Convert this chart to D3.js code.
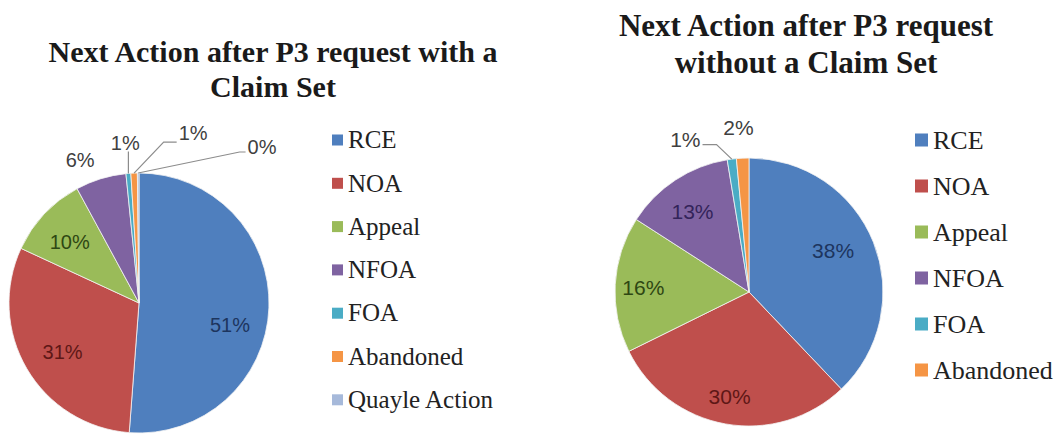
<!DOCTYPE html>
<html>
<head>
<meta charset="utf-8">
<script src="https://cdn.jsdelivr.net/npm/d3@7"></script>
<style>
  html, body { margin: 0; padding: 0; background: #fff; }
  svg { display: block; }
</style>
</head>
<body>
<svg id="chart" width="1064" height="437"></svg>
<script>
// ---- Data ----
const leftCategories = ["RCE", "NOA", "Appeal", "NFOA", "FOA", "Abandoned", "Quayle Action"];
const leftValues = [51.2, 30.7, 10.2, 6.3, 0.6, 0.8, 0.2];
const leftLabels = ["51%", "31%", "10%", "6%", "1%", "1%", "0%"];
const leftTitle = ["Next Action after P3 request with a", "Claim Set"];

const rightCategories = ["RCE", "NOA", "Appeal", "NFOA", "FOA", "Abandoned"];
const rightValues = [37.9, 29.8, 16.4, 13.3, 1.1, 1.5];
const rightLabels = ["38%", "30%", "16%", "13%", "1%", "2%"];
const rightTitle = ["Next Action after P3 request", "without a Claim Set"];

// ---- Styles ----
const palette = ["#4F7FBE", "#BF4F4C", "#9ABB59", "#7F63A1", "#4AACC5", "#F59545", "#A6B9DA"];
const innerLabelColor = ["#1D355E", "#5E1716", "#2E4713", "#33245A"];
const outerLabelColor = "#404040";

const svg = d3.select("#chart");
svg.append("rect").attr("width", 1064).attr("height", 437).attr("fill", "#fff");

function drawChart(cfg) {
  const g = svg.append("g");
  const color = d3.scaleOrdinal().domain(cfg.categories).range(palette);

  // Title
  const t = g.append("text")
    .attr("text-anchor", "middle")
    .attr("font-family", "'Liberation Serif', 'Times New Roman', serif")
    .attr("font-weight", "bold")
    .attr("font-size", cfg.titleSize)
    .attr("fill", "#1a1a1a");
  cfg.title.forEach((line, i) => {
    t.append("tspan").attr("x", cfg.titleX).attr("y", cfg.titleY + i * cfg.titleGap).text(line);
  });

  // Pie
  const pie = d3.pie().sort(null).value(d => d.v);
  const data = cfg.categories.map((c, i) => ({ c, v: cfg.values[i], label: cfg.labels[i], i }));
  const arcs = pie(data);
  const arc = d3.arc().innerRadius(0).outerRadius(cfg.r);

  const pg = g.append("g").attr("transform", `translate(${cfg.cx},${cfg.cy})`);
  pg.selectAll("path.slice").data(arcs).enter().append("path")
    .attr("class", "slice")
    .attr("d", arc)
    .attr("fill", d => color(d.data.c))
    .attr("stroke", "#f4f4f4")
    .attr("stroke-width", 0.8);

  // Labels
  const mid = d => (d.startAngle + d.endAngle) / 2;
  arcs.forEach((d, i) => {
    const lay = cfg.labelLayout[i];
    const p = d3.pointRadial(mid(d), cfg.r * lay.k);
    const x = p[0] + lay.nudge[0], y = p[1] + lay.nudge[1];
    const txt = pg.append("text")
      .attr("x", x).attr("y", y)
      .attr("dy", "0.36em")
      .attr("text-anchor", "middle")
      .attr("font-family", "'Liberation Sans', Arial, sans-serif")
      .attr("font-size", cfg.labelSize)
      .attr("fill", lay.k < 1 ? innerLabelColor[i] : outerLabelColor)
      .text(d.data.label);
    if (lay.leader) {
      const a = d3.pointRadial(mid(d), cfg.r);
      const w = txt.node().getComputedTextLength();
      let pts;
      if (lay.leader === "down") {
        pts = [[a[0], a[1]], [a[0], y + 9]];
      } else if (lay.leader === "left") {
        const ex = x - w / 2 - 2, ey = y + lay.ly;
        pts = [[a[0], a[1]], [ex - lay.elbow, ey], [ex, ey]];
      } else if (lay.leader === "right") {
        const ex = x + w / 2 + 2, ey = y + lay.ly;
        pts = [[ex, ey], [ex + lay.elbow, ey], [a[0], a[1]]];
      }
      pg.append("path")
        .attr("d", d3.line()(pts))
        .attr("fill", "none")
        .attr("stroke", "#8c8c8c")
        .attr("stroke-width", 1.2);
    }
  });

  // Legend
  const lg = g.append("g");
  cfg.categories.forEach((c, i) => {
    const yy = cfg.legendY + i * cfg.legendGap;
    lg.append("rect")
      .attr("x", cfg.legendX).attr("y", yy - cfg.sw / 2)
      .attr("width", cfg.sw).attr("height", cfg.sw)
      .attr("fill", color(c));
    lg.append("text")
      .attr("x", cfg.legendX + cfg.sw + 5).attr("y", yy)
      .attr("dy", "0.33em")
      .attr("font-family", "'Liberation Serif', 'Times New Roman', serif")
      .attr("font-size", cfg.legendSize)
      .attr("fill", "#222")
      .text(c);
  });
}

drawChart({
  categories: leftCategories, values: leftValues, labels: leftLabels, title: leftTitle,
  titleX: 273, titleY: 62, titleGap: 35, titleSize: 30,
  cx: 139, cy: 303, r: 130,
  labelSize: 20,
  labelLayout: [
    { k: 0.7, nudge: [0, 18] },
    { k: 0.7, nudge: [2, 3] },
    { k: 0.7, nudge: [-3, 1] },
    { k: 1.2, nudge: [-13, 6] },
    { k: 1.2, nudge: [-1, -5], leader: "down" },
    { k: 1.2, nudge: [60, -14], leader: "left", ly: 9, elbow: 13 },
    { k: 1.2, nudge: [124, 0], leader: "left", ly: 5, elbow: 6 }
  ],
  legendX: 332, legendY: 140, legendGap: 43.3, sw: 11, legendSize: 25
});

drawChart({
  categories: rightCategories, values: rightValues, labels: rightLabels, title: rightTitle,
  titleX: 806, titleY: 36, titleGap: 37, titleSize: 31,
  cx: 749, cy: 292, r: 134,
  labelSize: 21,
  labelLayout: [
    { k: 0.7, nudge: [-3, -7] },
    { k: 0.7, nudge: [-3, 12] },
    { k: 0.7, nudge: [-12, 1] },
    { k: 0.7, nudge: [-5, -2] },
    { k: 1.2, nudge: [-43, 7], leader: "right", ly: 5, elbow: 14 },
    { k: 1.2, nudge: [-3, -4] }
  ],
  legendX: 915, legendY: 140, legendGap: 46, sw: 13, legendSize: 26
});
</script>
</body>
</html>
